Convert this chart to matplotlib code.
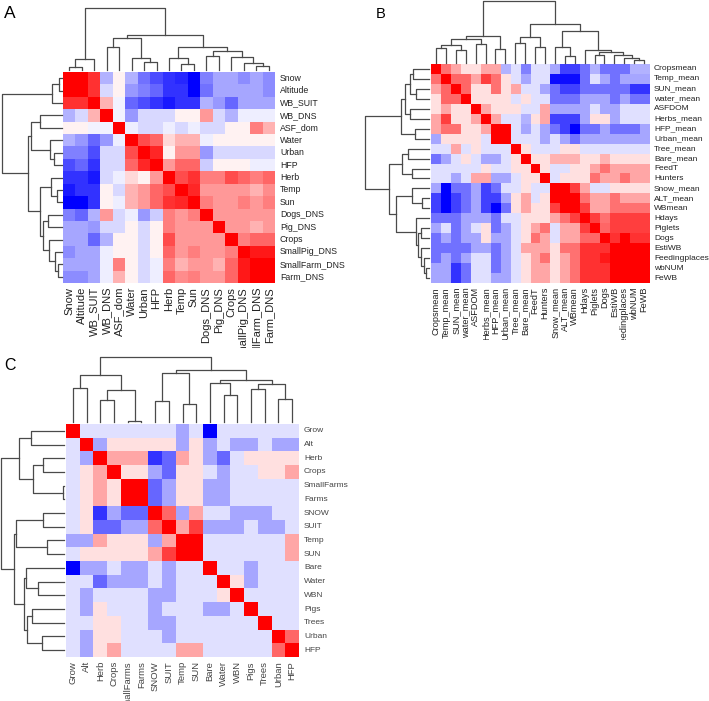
import numpy as np
import matplotlib
matplotlib.use('Agg')
import matplotlib.pyplot as plt
from matplotlib import transforms
from matplotlib.transforms import Bbox, TransformedBbox

# ---------------- data ----------------
# panel A (order as in the clustered heatmap)
names_a = ['Snow', 'Altitude', 'WB_SUIT', 'WB_DNS', 'ASF_dom', 'Water', 'Urban', 'HFP',
           'Herb', 'Temp', 'Sun', 'Dogs_DNS', 'Pig_DNS', 'Crops', 'SmallPig_DNS',
           'SmallFarm_DNS', 'Farm_DNS']
corr_a = [
    [1, 1, 0.8, -0.3, 0.05, -0.3, -0.55, -0.7, -0.8, -0.85, -1.0, -0.5, -0.35, -0.35, -0.45, -0.35, -0.45],
    [1, 1, 0.8, -0.15, 0.05, -0.4, -0.5, -0.6, -0.8, -0.8, -1.0, -0.55, -0.35, -0.35, -0.35, -0.35, -0.45],
    [0.8, 0.8, 1, 0.3, -0.05, -0.6, -0.7, -0.8, -0.9, -0.8, -0.8, -0.3, -0.4, -0.6, -0.35, -0.35, -0.35],
    [-0.3, -0.15, 0.3, 1, -0.05, -0.4, -0.15, -0.15, -0.15, 0.05, 0.05, 0.4, -0.15, -0.3, -0.07, -0.07, -0.07],
    [0.05, 0.05, -0.05, -0.05, 1, -0.07, -0.15, -0.15, -0.07, -0.15, -0.07, -0.15, -0.15, 0.05, 0.05, 0.5, 0.3],
    [-0.3, -0.4, -0.6, -0.4, -0.07, 1, 0.7, 0.6, 0.15, 0.3, 0.3, -0.07, 0.05, 0.05, 0.05, 0.05, 0.05],
    [-0.5, -0.5, -0.7, -0.15, -0.15, 0.7, 1, 0.85, 0.05, 0.4, 0.4, -0.4, -0.15, -0.15, -0.15, -0.15, -0.15],
    [-0.7, -0.6, -0.8, -0.15, -0.15, 0.6, 0.85, 1, 0.4, 0.6, 0.6, -0.2, 0.05, 0.05, 0.05, -0.07, -0.07],
    [-0.8, -0.8, -0.9, -0.15, -0.07, 0.15, 0.05, 0.4, 1, 0.7, 0.8, 0.5, 0.5, 0.7, 0.6, 0.5, 0.6],
    [-0.9, -0.8, -0.8, 0.05, -0.15, 0.3, 0.4, 0.6, 0.7, 1, 0.85, 0.4, 0.4, 0.4, 0.4, 0.3, 0.45],
    [-1, -1, -0.8, 0.05, -0.07, 0.3, 0.4, 0.6, 0.8, 0.85, 1, 0.5, 0.4, 0.4, 0.5, 0.4, 0.5],
    [-0.5, -0.6, -0.3, 0.4, -0.15, -0.07, -0.4, -0.2, 0.5, 0.4, 0.5, 1, 0.4, 0.4, 0.4, 0.4, 0.4],
    [-0.35, -0.35, -0.4, -0.15, -0.15, 0.05, -0.15, 0.05, 0.5, 0.4, 0.4, 0.4, 1, 0.4, 0.4, 0.3, 0.4],
    [-0.35, -0.35, -0.6, -0.3, 0.05, 0.05, -0.15, 0.05, 0.7, 0.4, 0.4, 0.4, 0.4, 1, 0.5, 0.6, 0.6],
    [-0.45, -0.35, -0.35, -0.07, 0.05, 0.05, -0.15, 0.05, 0.6, 0.4, 0.5, 0.4, 0.4, 0.5, 1, 0.9, 0.9],
    [-0.35, -0.35, -0.35, -0.07, 0.5, 0.05, -0.15, -0.07, 0.5, 0.3, 0.4, 0.4, 0.3, 0.6, 0.9, 1, 1],
    [-0.45, -0.45, -0.35, -0.07, 0.3, 0.05, -0.15, -0.07, 0.6, 0.45, 0.5, 0.4, 0.4, 0.6, 0.9, 1, 1],
]
# merges: (left, right, height) ; new cluster ids continue after the leaves
tree_a = [(0, 1, 0.054), (17, 2, 0.17), (3, 4, 0.37), (6, 7, 0.135), (5, 20, 0.20),
          (19, 21, 0.51), (9, 10, 0.09), (8, 23, 0.19), (11, 12, 0.23), (15, 16, 0.065),
          (14, 26, 0.11), (13, 27, 0.21), (25, 28, 0.31), (24, 29, 0.37), (22, 30, 0.56),
          (18, 31, 1.0)]

# panel B
names_b = ['Cropsmean', 'Temp_mean', 'SUN_mean', 'water_mean', 'ASFDOM', 'Herbs_mean',
           'HFP_mean', 'Urban_mean', 'Tree_mean', 'Bare_mean', 'FeedT', 'Hunters',
           'Snow_mean', 'ALT_mean', 'WBmean', 'Hdays', 'Piglets', 'Dogs', 'EstiWB',
           'Feedingplaces', 'wbNUM', 'FeWB']
corr_b = [
    [1, 0.55, 0.35, 0.12, 0.12, 0.35, 0.35, -0.3, -0.12, -0.5, -0.12, -0.12, -0.35, -0.75, -0.75, -0.55, -0.3, -0.55, -0.55, -0.55, -0.3, -0.3],
    [0.55, 1, 0.6, 0.6, 0.35, 0.75, 0.55, 0.12, -0.12, -0.35, -0.12, -0.12, -0.95, -0.95, -0.95, -0.55, -0.12, -0.35, -0.55, -0.35, -0.35, -0.35],
    [0.35, 0.6, 1, 0.6, 0.12, 0.12, 0.55, 0.12, 0.35, -0.12, -0.12, -0.35, -0.55, -0.75, -0.75, -0.55, -0.55, -0.55, -0.55, -0.55, -0.8, -0.8],
    [0.12, 0.6, 0.6, 1, 0.12, 0.12, 0.12, 0.12, -0.12, 0.12, -0.12, -0.12, -0.55, -0.55, -0.55, -0.35, -0.35, -0.35, -0.55, -0.35, -0.55, -0.55],
    [0.12, 0.35, 0.12, 0.12, 1, 0.35, 0.12, 0.12, 0.12, -0.12, -0.12, 0.35, -0.35, -0.35, -0.35, -0.35, -0.12, -0.35, -0.35, -0.12, -0.12, -0.12],
    [0.35, 0.75, 0.12, 0.12, 0.35, 1, 0.35, -0.12, -0.12, -0.3, 0.12, 0.35, -0.75, -0.75, -0.75, -0.35, 0.12, 0.12, -0.35, -0.12, -0.12, -0.12],
    [0.35, 0.55, 0.55, 0.12, 0.12, 0.35, 1, 1, -0.12, -0.35, -0.12, -0.35, -0.55, -0.75, -1, -0.55, -0.55, -0.35, -0.55, -0.55, -0.55, -0.35],
    [-0.35, 0.12, 0.12, 0.12, 0.12, -0.12, 1, 1, -0.12, -0.12, -0.12, -0.35, -0.12, -0.35, -0.55, -0.35, -0.35, -0.35, -0.35, -0.35, -0.35, -0.35],
    [-0.12, -0.12, 0.35, -0.12, 0.12, -0.12, -0.12, -0.12, 1, 0.12, -0.12, -0.12, -0.12, 0.12, 0.12, -0.12, -0.12, -0.12, -0.12, -0.12, -0.12, -0.12],
    [-0.55, -0.35, -0.12, 0.12, -0.12, -0.35, -0.35, -0.12, 0.12, 1, 0.12, 0.12, 0.3, 0.3, 0.3, 0.12, 0.12, 0.3, 0.12, 0.12, 0.12, 0.12],
    [-0.12, -0.12, -0.12, -0.12, -0.12, 0.12, -0.12, -0.12, 0.12, 0.12, 1, 0.12, -0.12, -0.12, 0.12, 0.12, 0.35, 0.55, 0.35, 0.35, 0.35, 0.35],
    [-0.12, -0.12, -0.35, -0.12, 0.35, 0.35, -0.35, -0.35, -0.12, 0.12, 0.12, 1, -0.12, 0.12, 0.12, 0.12, 0.55, 0.35, 0.35, 0.55, 0.35, 0.35],
    [-0.35, -1, -0.55, -0.55, -0.35, -0.75, -0.55, -0.12, -0.12, 0.12, -0.12, -0.12, 1, 1, 0.75, 0.35, -0.12, -0.12, 0.12, 0.12, 0.12, 0.12],
    [-0.75, -1, -0.75, -0.55, -0.35, -0.75, -0.75, -0.35, 0.12, 0.35, -0.12, 0.12, 1, 1, 1, 0.55, 0.35, 0.35, 0.55, 0.35, 0.35, 0.35],
    [-0.75, -1, -0.75, -0.55, -0.35, -0.75, -1, -0.55, 0.12, 0.35, 0.12, 0.12, 0.75, 1, 1, 0.75, 0.35, 0.35, 0.55, 0.55, 0.55, 0.55],
    [-0.55, -0.55, -0.55, -0.35, -0.35, -0.35, -0.55, -0.12, -0.12, 0.12, 0.12, 0.12, 0.35, 0.55, 0.75, 1, 0.75, 0.55, 0.75, 0.75, 0.75, 0.75],
    [-0.35, -0.12, -0.55, -0.35, -0.12, 0.12, -0.55, -0.35, -0.12, 0.12, 0.35, 0.55, -0.12, 0.35, 0.35, 0.75, 1, 0.6, 0.75, 0.75, 0.75, 0.75],
    [-0.55, -0.35, -0.55, -0.35, -0.35, 0.12, -0.35, -0.35, -0.12, 0.12, 0.55, 0.35, -0.12, 0.35, 0.35, 0.6, 0.6, 1, 0.8, 1, 0.8, 0.8],
    [-0.55, -0.55, -0.55, -0.55, -0.35, -0.35, -0.55, -0.35, -0.12, 0.35, 0.35, 0.35, 0.12, 0.55, 0.55, 0.8, 0.8, 0.8, 1, 1, 1, 1],
    [-0.55, -0.35, -0.55, -0.35, -0.12, -0.12, -0.55, -0.35, -0.12, 0.12, 0.35, 0.55, 0.12, 0.35, 0.55, 0.8, 0.8, 0.9, 1, 1, 1, 1],
    [-0.35, -0.35, -0.8, -0.55, -0.12, -0.12, -0.55, -0.35, -0.12, 0.12, 0.35, 0.35, 0.12, 0.35, 0.55, 0.8, 0.8, 0.8, 1, 1, 1, 1],
    [-0.35, -0.35, -0.8, -0.55, -0.12, -0.12, -0.35, -0.35, -0.12, 0.12, 0.35, 0.35, 0.12, 0.35, 0.55, 0.8, 0.8, 0.8, 1, 1, 1, 1],
]
tree_b = [(0, 1, 0.25), (2, 3, 0.21), (22, 23, 0.29), (4, 5, 0.30), (24, 25, 0.38),
          (6, 7, 0.22), (26, 27, 0.43), (8, 9, 0.33), (10, 11, 0.26), (29, 30, 0.42),
          (13, 14, 0.105), (12, 32, 0.26), (16, 17, 0.13), (20, 21, 0.05), (19, 35, 0.08),
          (18, 36, 0.13), (34, 37, 0.17), (15, 38, 0.21), (33, 39, 0.52), (31, 40, 0.63),
          (28, 41, 1.0)]

# panel C
names_c = ['Grow', 'Alt', 'Herb', 'Crops', 'SmallFarms', 'Farms', 'SNOW', 'SUIT', 'Temp',
           'SUN', 'Bare', 'Water', 'WBN', 'Pigs', 'Trees', 'Urban', 'HFP']
corr_c = [
    [1, -0.12, -0.12, -0.12, -0.12, -0.12, -0.12, -0.12, -0.35, -0.12, -1, -0.12, -0.12, -0.12, -0.12, -0.12, -0.12],
    [-0.12, 1, -0.35, 0.12, 0.12, 0.12, 0.12, 0.12, -0.35, 0.12, -0.35, -0.12, -0.35, -0.35, -0.12, -0.35, -0.35],
    [-0.12, -0.35, 1, 0.35, 0.35, 0.35, -0.8, -0.6, 0.35, 0.12, -0.35, -0.6, -0.12, 0.12, 0.12, 0.12, 0.12],
    [-0.12, 0.12, 0.35, 1, 0.12, 0.12, -0.35, -0.6, 0.12, 0.12, -0.12, -0.35, -0.12, -0.12, 0.12, 0.12, 0.35],
    [-0.12, 0.12, 0.35, 0.12, 1, 1, -0.6, -0.35, 0.12, 0.12, -0.35, -0.35, -0.12, -0.12, -0.12, -0.12, -0.12],
    [-0.12, 0.12, 0.35, 0.12, 1, 1, -0.6, -0.35, 0.12, 0.12, -0.35, -0.35, -0.12, -0.12, -0.12, -0.12, -0.12],
    [-0.12, 0.12, -0.8, -0.35, -0.6, -0.6, 1, 0.6, -0.35, 0.35, -0.12, -0.12, -0.35, -0.35, -0.35, -0.12, -0.12],
    [-0.12, 0.12, -0.6, -0.6, -0.35, -0.35, 0.6, 1, 0.35, 0.75, -0.35, -0.35, -0.35, -0.12, -0.35, -0.35, -0.12],
    [-0.35, -0.35, 0.35, 0.12, 0.12, 0.12, -0.35, 0.35, 1, 1, -0.12, -0.12, -0.12, -0.12, -0.12, -0.12, 0.35],
    [-0.12, 0.12, 0.12, 0.12, 0.12, 0.12, 0.35, 0.75, 1, 1, -0.12, -0.12, -0.12, -0.12, -0.12, -0.12, 0.35],
    [-1, -0.35, -0.35, -0.12, -0.35, -0.35, -0.12, -0.35, -0.12, -0.12, 1, -0.12, -0.12, -0.35, -0.12, -0.12, -0.12],
    [-0.12, -0.12, -0.6, -0.35, -0.35, -0.35, -0.12, -0.35, -0.12, -0.12, -0.12, 1, 0.12, -0.35, -0.12, -0.12, -0.12],
    [-0.12, -0.35, -0.12, -0.12, -0.12, -0.12, -0.35, -0.35, -0.12, -0.12, -0.12, 0.12, 1, -0.12, -0.12, -0.12, -0.12],
    [-0.12, -0.35, 0.12, -0.12, -0.12, -0.12, -0.35, -0.12, -0.12, -0.12, -0.35, -0.35, -0.12, 1, -0.12, -0.12, -0.12],
    [-0.12, -0.12, 0.12, 0.12, -0.12, -0.12, -0.35, -0.35, -0.12, -0.12, -0.12, -0.12, -0.12, -0.12, 1, -0.12, -0.12],
    [-0.12, -0.35, 0.12, 0.12, -0.12, -0.12, -0.12, -0.35, -0.12, -0.12, -0.12, -0.12, -0.12, -0.12, -0.12, 1, 0.6],
    [-0.12, -0.35, 0.12, 0.35, -0.12, -0.12, -0.12, -0.12, 0.35, 0.35, -0.12, -0.12, -0.12, -0.12, -0.12, 0.6, 1],
]
tree_c = [(0, 1, 0.53), (2, 3, 0.34), (4, 5, 0.01), (18, 19, 0.49), (17, 20, 0.72),
          (6, 7, 0.33), (8, 9, 0.27), (22, 23, 0.76), (11, 12, 0.41), (10, 25, 0.60),
          (13, 14, 0.51), (15, 16, 0.35), (27, 28, 0.59), (26, 29, 0.64), (24, 30, 0.80),
          (21, 31, 1.0)]

# ---------------- figure ----------------
W, H = 709, 701
plt.rcParams['font.family'] = ['Liberation Sans', 'DejaVu Sans']
fig = plt.figure(figsize=(W / 100, H / 100), dpi=100)


def px_axes(x0, y0, x1, y1):
    # pixel box (top-left origin) -> figure axes
    return fig.add_axes([x0 / W, 1 - y1 / H, (x1 - x0) / W, (y1 - y0) / H])


def tree_lines(merges, n):
    pos = {i: float(i) for i in range(n)}
    hgt = {i: 0.0 for i in range(n)}
    segs = []
    for k, (a, b, h) in enumerate(merges):
        segs.append(([pos[a], pos[a], pos[b], pos[b]], [hgt[a], h, h, hgt[b]]))
        pos[n + k] = (pos[a] + pos[b]) / 2
        hgt[n + k] = h
    return segs


def panel(names, vals, merges, heat, top, left, row_fs, col_fs, clip_y, tcol):
    n = len(names)
    ax = px_axes(*heat)
    ax.imshow(np.array(vals), cmap='bwr', vmin=-1, vmax=1, aspect='auto',
              interpolation='nearest')
    ax.axis('off')

    segs = tree_lines(merges, n)
    axt = px_axes(*top)
    axl = px_axes(*left)
    for xs, ys in segs:
        axt.plot(xs, ys, color='#4a4a4a', lw=0.9, clip_on=False)
        axl.plot(ys, xs, color='#4a4a4a', lw=0.9, clip_on=False)
    axt.set_xlim(-0.5, n - 0.5)
    axt.set_ylim(0, 1)
    axt.axis('off')
    axl.set_xlim(1, 0)
    axl.set_ylim(n - 0.5, -0.5)
    axl.axis('off')

    clip = TransformedBbox(Bbox.from_extents(0, 1 - clip_y / H, 1, 1), fig.transFigure)
    row_tr = transforms.offset_copy(
        transforms.blended_transform_factory(ax.transAxes, ax.transData),
        fig=fig, x=5, y=0, units='dots')
    col_tr = transforms.offset_copy(
        transforms.blended_transform_factory(ax.transData, ax.transAxes),
        fig=fig, x=0, y=-4, units='dots')
    for i, nm in enumerate(names):
        fig.text(1, i, nm, transform=row_tr, ha='left', va='center',
                 fontsize=row_fs, color=tcol)
        t = fig.text(i, 0, nm, transform=col_tr, ha='center', va='top',
                     rotation=90, fontsize=col_fs, color=tcol)
        t.set_clip_box(clip)
        t.set_clip_on(True)


panel(names_a, corr_a, tree_a, (63, 72, 275, 283), (63, 8, 275, 70), (2, 72, 62, 283),
      6.3, 8, 348, '#222222')
panel(names_b, corr_b, tree_b, (431, 64, 649, 283), (431, 1, 649, 63), (365, 64, 429, 283),
      6.0, 6.6, 340, '#222222')
panel(names_c, corr_c, tree_c, (66, 424, 299, 657), (66, 357, 299, 422), (1, 424, 64, 657),
      6, 6.8, 701, '#444444')

fig.text(4 / W, 1 - 14 / H, 'A', fontsize=12.5, ha='left', va='center')
fig.text(376 / W, 1 - 14 / H, 'B', fontsize=10.5, ha='left', va='center')
fig.text(4 / W, 1 - 366 / H, 'C', fontsize=11.5, ha='left', va='center')

fig.savefig('out.png', dpi=100)
